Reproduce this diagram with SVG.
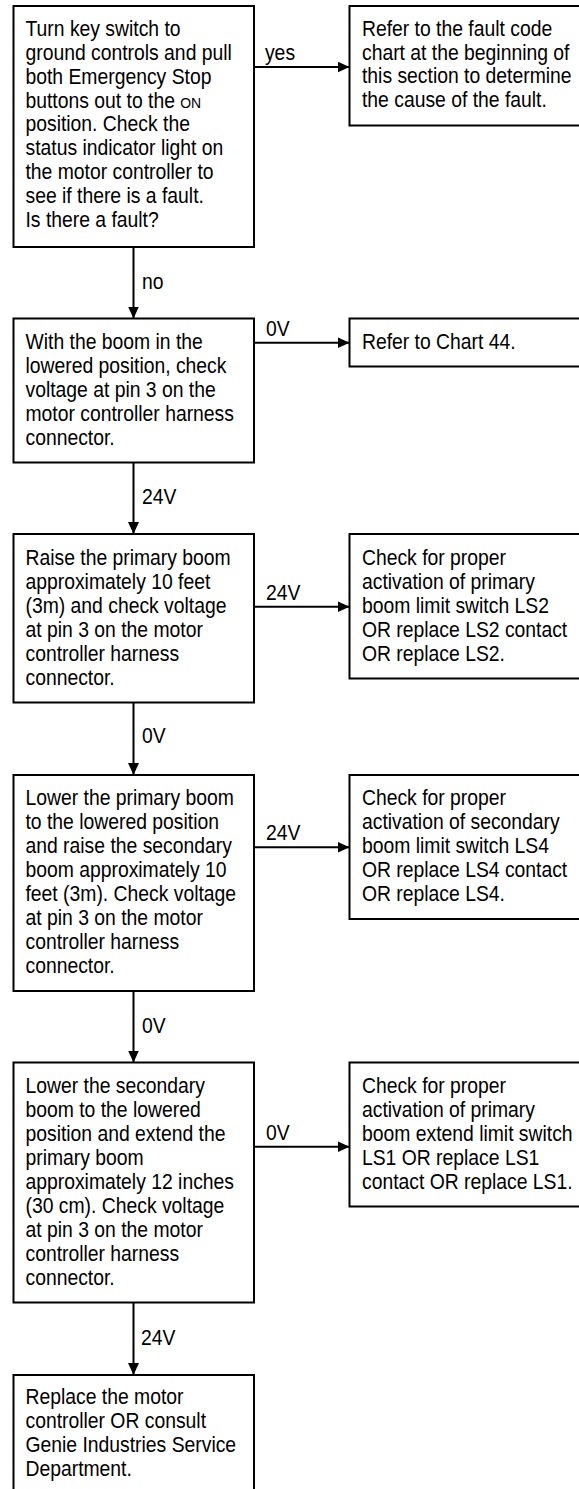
<svg xmlns="http://www.w3.org/2000/svg" width="579" height="1489" viewBox="0 0 579 1489">
<defs>
<style>
.box{fill:#fff;stroke:#000;stroke-width:2}
.t,.lbl{font-family:"Liberation Sans",Arial,sans-serif;font-size:21.5px;fill:#000;transform:scale(0.9,1)}
.sc{font-size:15.5px}
.c{stroke:#000;stroke-width:2;fill:none;marker-end:url(#ah)}
</style>
<marker id="ah" markerUnits="userSpaceOnUse" markerWidth="12" markerHeight="12" refX="12" refY="5.5" orient="auto">
<path d="M0,0 L12,5.5 L0,11 Z" fill="#000"/>
</marker>
</defs>
<rect width="579" height="1489" fill="#fff"/>
<g id="connectors">
<line class="c" x1="254" y1="67" x2="349.5" y2="67"/>
<line class="c" x1="133.5" y1="247" x2="133.5" y2="318.5"/>
<line class="c" x1="254" y1="342.7" x2="349.5" y2="342.7"/>
<line class="c" x1="133.5" y1="462.5" x2="133.5" y2="534"/>
<line class="c" x1="254" y1="606.7" x2="349.5" y2="606.7"/>
<line class="c" x1="133.5" y1="702.5" x2="133.5" y2="775"/>
<line class="c" x1="254" y1="847.3" x2="349.5" y2="847.3"/>
<line class="c" x1="133.5" y1="991" x2="133.5" y2="1062.5"/>
<line class="c" x1="254" y1="1146.7" x2="349.5" y2="1146.7"/>
<line class="c" x1="133.5" y1="1302.5" x2="133.5" y2="1375"/>
<text class="lbl" x="294.4" y="60">yes</text>
<text class="lbl" x="157.8" y="289">no</text>
<text class="lbl" x="295.6" y="336">0V</text>
<text class="lbl" x="157.8" y="504">24V</text>
<text class="lbl" x="295.6" y="600">24V</text>
<text class="lbl" x="157.8" y="743">0V</text>
<text class="lbl" x="295.6" y="840">24V</text>
<text class="lbl" x="157.8" y="1033">0V</text>
<text class="lbl" x="295.6" y="1140">0V</text>
<text class="lbl" x="156.7" y="1345">24V</text>
</g>
<g id="n1">
<rect class="box" x="13.5" y="6" width="240.5" height="241"/>
<text class="t" x="28.3" y="36">Turn key switch to</text>
<text class="t" x="28.3" y="59.9">ground controls and pull</text>
<text class="t" x="28.3" y="83.8">both Emergency Stop</text>
<text class="t" x="28.3" y="107.6">buttons out to the <tspan class="sc">ON</tspan></text>
<text class="t" x="28.3" y="131.5">position. Check the</text>
<text class="t" x="28.3" y="155.4">status indicator light on</text>
<text class="t" x="28.3" y="179.3">the motor controller to</text>
<text class="t" x="28.3" y="203.1">see if there is a fault.</text>
<text class="t" x="28.3" y="227">Is there a fault?</text>
</g>
<g id="r1">
<rect class="box" x="349.5" y="6" width="232" height="119.5"/>
<text class="t" x="402.2" y="36">Refer to the fault code</text>
<text class="t" x="402.2" y="59.7">chart at the beginning of</text>
<text class="t" x="402.2" y="83.4">this section to determine</text>
<text class="t" x="402.2" y="107">the cause of the fault.</text>
</g>
<g id="n2">
<rect class="box" x="13.5" y="318.5" width="240.5" height="144"/>
<text class="t" x="28.3" y="349">With the boom in the</text>
<text class="t" x="28.3" y="373">lowered position, check</text>
<text class="t" x="28.3" y="397">voltage at pin 3 on the</text>
<text class="t" x="28.3" y="421">motor controller harness</text>
<text class="t" x="28.3" y="445">connector.</text>
</g>
<g id="r2">
<rect class="box" x="349.5" y="318.5" width="232" height="48"/>
<text class="t" x="402.2" y="349">Refer to Chart 44.</text>
</g>
<g id="n3">
<rect class="box" x="13.5" y="534" width="240.5" height="168.5"/>
<text class="t" x="28.3" y="565">Raise the primary boom</text>
<text class="t" x="28.3" y="589">approximately 10 feet</text>
<text class="t" x="28.3" y="613">(3m) and check voltage</text>
<text class="t" x="28.3" y="637">at pin 3 on the motor</text>
<text class="t" x="28.3" y="661">controller harness</text>
<text class="t" x="28.3" y="685">connector.</text>
</g>
<g id="r3">
<rect class="box" x="349.5" y="534" width="232" height="144.5"/>
<text class="t" x="402.2" y="565">Check for proper</text>
<text class="t" x="402.2" y="589">activation of primary</text>
<text class="t" x="402.2" y="613">boom limit switch LS2</text>
<text class="t" x="402.2" y="637">OR replace LS2 contact</text>
<text class="t" x="402.2" y="661">OR replace LS2.</text>
</g>
<g id="n4">
<rect class="box" x="13.5" y="775" width="240.5" height="216"/>
<text class="t" x="28.3" y="805">Lower the primary boom</text>
<text class="t" x="28.3" y="829">to the lowered position</text>
<text class="t" x="28.3" y="853">and raise the secondary</text>
<text class="t" x="28.3" y="877">boom approximately 10</text>
<text class="t" x="28.3" y="901">feet (3m). Check voltage</text>
<text class="t" x="28.3" y="925">at pin 3 on the motor</text>
<text class="t" x="28.3" y="949">controller harness</text>
<text class="t" x="28.3" y="973">connector.</text>
</g>
<g id="r4">
<rect class="box" x="349.5" y="775" width="232" height="144"/>
<text class="t" x="402.2" y="805">Check for proper</text>
<text class="t" x="402.2" y="829">activation of secondary</text>
<text class="t" x="402.2" y="853">boom limit switch LS4</text>
<text class="t" x="402.2" y="877">OR replace LS4 contact</text>
<text class="t" x="402.2" y="901">OR replace LS4.</text>
</g>
<g id="n5">
<rect class="box" x="13.5" y="1062.5" width="240.5" height="240"/>
<text class="t" x="28.3" y="1093">Lower the secondary</text>
<text class="t" x="28.3" y="1117">boom to the lowered</text>
<text class="t" x="28.3" y="1141">position and extend the</text>
<text class="t" x="28.3" y="1165">primary boom</text>
<text class="t" x="28.3" y="1189">approximately 12 inches</text>
<text class="t" x="28.3" y="1213">(30 cm). Check voltage</text>
<text class="t" x="28.3" y="1237">at pin 3 on the motor</text>
<text class="t" x="28.3" y="1261">controller harness</text>
<text class="t" x="28.3" y="1285">connector.</text>
</g>
<g id="r5">
<rect class="box" x="349.5" y="1062.5" width="232" height="144"/>
<text class="t" x="402.2" y="1093">Check for proper</text>
<text class="t" x="402.2" y="1117">activation of primary</text>
<text class="t" x="402.2" y="1141">boom extend limit switch</text>
<text class="t" x="402.2" y="1165">LS1 OR replace LS1</text>
<text class="t" x="402.2" y="1189">contact OR replace LS1.</text>
</g>
<g id="n6">
<rect class="box" x="13.5" y="1375" width="240.5" height="130"/>
<text class="t" x="28.3" y="1404">Replace the motor</text>
<text class="t" x="28.3" y="1428">controller OR consult</text>
<text class="t" x="28.3" y="1452">Genie Industries Service</text>
<text class="t" x="28.3" y="1476">Department.</text>
</g>
</svg>
